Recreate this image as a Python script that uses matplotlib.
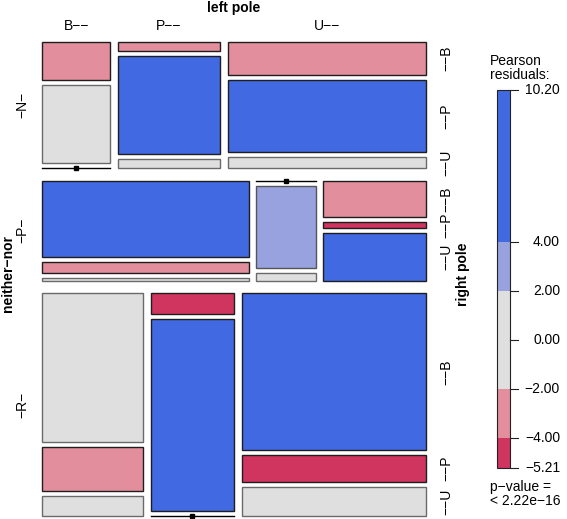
import numpy as np
import matplotlib
matplotlib.use("Agg")
import matplotlib.pyplot as plt
from matplotlib.patches import Rectangle

plt.rcParams['font.family'] = ['Liberation Sans', 'DejaVu Sans']

# Levels of the three factors
rows = ['N', 'P', 'R']      # neither-nor
left = ['B', 'P', 'U']      # left pole
right = ['B', 'P', 'U']     # right pole

# counts[neither-nor][left pole][right pole]
counts = np.array([
    [[17, 35, 0], [6, 66, 6], [43, 93, 15]],
    [[106, 15, 4], [0, 33, 3], [25, 4, 33]],
    [[95, 28, 13], [11, 101, 0], [183, 31, 34]],
])

# Pearson residuals, estimated from the shading of each tile
resid = np.array([
    [[-3.0, 1.0, -1.5], [-2.5, 6.5, -1.0], [-3.0, 5.5, -0.5]],
    [[10.2, -3.0, -1.5], [-2.0, 3.0, 0.5], [-2.5, -4.5, 7.0]],
    [[0.5, -3.0, -0.5], [-5.2, 8.0, -1.0], [6.0, -5.0, 1.0]],
])

legend_breaks = [-5.21, -4.0, -2.0, 2.0, 4.0, 10.20]
legend_ticks = [-5.21, -4.0, -2.0, 0.0, 2.0, 4.0, 10.20]


def shade(r):
    if r > 4:
        return '#4169E1'
    if r > 2:
        return '#97A2DE'
    if r > -2:
        return '#DFDFDF'
    if r > -4:
        return '#E28E9C'
    return '#CF355F'


def edge(r):
    if -2 < r <= 2:
        return '#6A6A6A'
    if 2 < r <= 4:
        return '#555555'
    return '#1E1E1E'


fig = plt.figure(figsize=(5.67, 5.19), dpi=100)
ax = fig.add_axes([0, 0, 1, 1])
ax.set_xlim(0, 567)
ax.set_ylim(519, 0)
ax.axis('off')

# mosaic area and spacing
X0, X1, Y0, Y1 = 42, 426, 42, 516
g1, g2, g3 = 12.5, 7.5, 5.0

row_tot = counts.sum(axis=(1, 2))
H = (Y1 - Y0) - g1 * (len(rows) - 1)
y = Y0
for i, rl in enumerate(rows):
    h = H * row_tot[i] / row_tot.sum()
    ax.text(22, y + h / 2, '\u2212' + rl + '\u2212', rotation=90,
            ha='center', va='center', fontsize=10)
    col_tot = counts[i].sum(axis=1)
    W = (X1 - X0) - g2 * (len(left) - 1)
    x = X0
    for j, ll in enumerate(left):
        w = W * col_tot[j] / col_tot.sum()
        if i == 0:
            ax.text(x + w / 2, 26, ll + '\u2212\u2212', ha='center',
                    va='center', fontsize=10)
        cell = counts[i, j]
        hh = h - g3 * (len(right) - 1)
        yy = y
        for k, rr in enumerate(right):
            ch = hh * cell[k] / cell.sum()
            if cell[k] == 0:
                ax.plot([x, x + w], [yy, yy], color='black', lw=1)
                ax.plot(x + w / 2, yy, marker='s', ms=3.5, color='black')
            else:
                ax.add_patch(Rectangle((x, yy), w, ch,
                                       facecolor=shade(resid[i, j, k]),
                                       edgecolor=edge(resid[i, j, k]),
                                       lw=1.0))
            if j == len(left) - 1:
                ax.text(446, yy + ch / 2, '\u2212\u2212' + rr, rotation=90,
                        ha='center', va='center', fontsize=10)
            yy += ch + g3
        x += w + g2
    y += h + g1

ax.text((X0 + X1) / 2, 8, 'left pole', ha='center', va='center',
        fontsize=10, fontweight='bold')
ax.text(8, 274, 'neither\u2212nor', rotation=90, ha='center', va='center',
        fontsize=10, fontweight='bold')
ax.text(463, 274, 'right pole', rotation=90, ha='center', va='center',
        fontsize=10, fontweight='bold')

# legend
LX, LW, LT, LB = 497, 13, 90, 468
lo, hi = legend_breaks[0], legend_breaks[-1]


def ly(v):
    return LB - (v - lo) / (hi - lo) * (LB - LT)


for a, b in zip(legend_breaks[:-1], legend_breaks[1:]):
    mid = (a + b) / 2
    ax.add_patch(Rectangle((LX, ly(b)), LW, ly(a) - ly(b),
                           facecolor=shade(mid), edgecolor='none'))
ax.add_patch(Rectangle((LX, LT), LW, LB - LT, facecolor='none',
                       edgecolor='#222222', lw=0.8))
for t in legend_ticks:
    ax.plot([LX + LW, LX + LW + 8], [ly(t), ly(t)], color='#222222', lw=0.8)
    ax.text(560, ly(t), f'{t:.2f}'.replace('-', '\u2212'), ha='right',
            va='center', fontsize=10)

ax.text(490, 68, 'Pearson\nresiduals:', ha='left', va='center',
        fontsize=10, linespacing=0.95)
ax.text(490, 494, 'p\u2212value =\n< 2.22e\u221216', ha='left', va='center',
        fontsize=10, linespacing=0.95)

fig.savefig('out.png', dpi=100)
